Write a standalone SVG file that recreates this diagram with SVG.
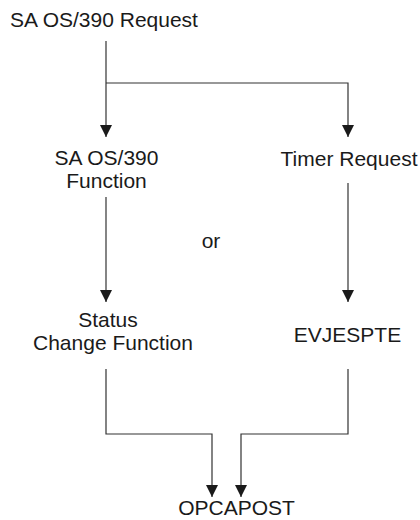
<svg xmlns="http://www.w3.org/2000/svg" width="420" height="520" viewBox="0 0 420 520">
<defs>
<style>
text{font-family:"Liberation Sans",Arial,sans-serif;font-size:21px;fill:#1a1a1a}
.c{text-anchor:middle}
.ln{fill:none;stroke:#333;stroke-width:1.2}
</style>
<marker id="ah" viewBox="0 0 12 12" markerWidth="12" markerHeight="12" refX="12" refY="6" orient="auto" markerUnits="userSpaceOnUse">
<path d="M0,0 L12,6 L0,12 Z" fill="#1a1a1a"/>
</marker>
</defs>
<rect width="420" height="520" fill="#fff"/>
<g id="connectors">
<path class="ln" d="M106,41 V137" marker-end="url(#ah)"/>
<path class="ln" d="M106,83 H348 V137" marker-end="url(#ah)"/>
<path class="ln" d="M106,197 V302" marker-end="url(#ah)"/>
<path class="ln" d="M348,183 V302" marker-end="url(#ah)"/>
<path class="ln" d="M106,369 V434 H212 V497" marker-end="url(#ah)"/>
<path class="ln" d="M348,369 V434 H241 V497" marker-end="url(#ah)"/>
</g>
<g id="n-request"><text x="10" y="27">SA OS/390 Request</text></g>
<g id="n-function"><text class="c" x="106.5" y="165">SA OS/390</text><text class="c" x="106.5" y="188">Function</text></g>
<g id="n-timer"><text class="c" x="349" y="166">Timer Request</text></g>
<g id="n-or"><text class="c" x="211" y="248">or</text></g>
<g id="n-status"><text class="c" x="108" y="327">Status</text><text class="c" x="113" y="350">Change Function</text></g>
<g id="n-evjespte"><text class="c" x="347.5" y="342">EVJESPTE</text></g>
<g id="n-opcapost"><text class="c" x="236.5" y="515">OPCAPOST</text></g>
</svg>
